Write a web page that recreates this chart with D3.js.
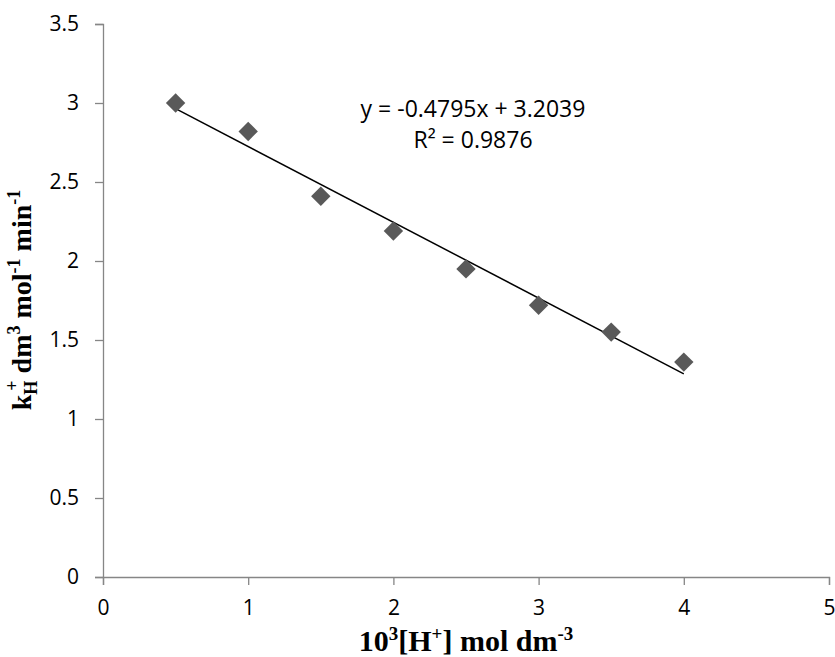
<!DOCTYPE html>
<html>
<head>
<meta charset="utf-8">
<script src="https://cdn.jsdelivr.net/npm/d3@7"></script>
<style>
  body { margin: 0; background: #fff; }
  .tick text { font-family: "Open Sans", "Liberation Sans", sans-serif; font-size: 21px; fill: #000; }
  .axis path, .axis line { stroke: #868686; stroke-width: 1.3; }
  .title { font-family: "Liberation Serif", "Times New Roman", serif; font-weight: bold; }
  .eq { font-family: "Open Sans", "Liberation Sans", sans-serif; font-size: 23px; }
</style>
</head>
<body>
<svg width="835" height="657"></svg>
<script>
// data
var hConc = [0.5, 1, 1.5, 2, 2.5, 3, 3.5, 4];
var kRate = [3.0, 2.82, 2.41, 2.19, 1.95, 1.72, 1.55, 1.36];
var xTicks = [0, 1, 2, 3, 4, 5];
var yTicks = [0, 0.5, 1, 1.5, 2, 2.5, 3, 3.5];
var slope = -0.4795, intercept = 3.2039, r2 = 0.9876;

var svg = d3.select("svg"),
    margin = {top: 24, right: 6, bottom: 80, left: 103},
    width = +svg.attr("width") - margin.left - margin.right,
    height = +svg.attr("height") - margin.top - margin.bottom,
    g = svg.append("g").attr("transform", "translate(" + margin.left + "," + margin.top + ")");

var x = d3.scaleLinear().domain([0, 5]).range([0, width]);
var y = d3.scaleLinear().domain([0, 3.5]).range([height, 0]);

g.append("g")
    .attr("class", "axis")
    .attr("transform", "translate(0," + height + ")")
    .call(d3.axisBottom(x).tickValues(xTicks).tickSize(8).tickSizeOuter(8).tickPadding(15).tickFormat(d3.format("d")));

g.append("g")
    .attr("class", "axis")
    .call(d3.axisLeft(y).tickValues(yTicks).tickSize(8).tickSizeOuter(8).tickPadding(16).tickFormat(function(d) { return d; }));

// linear trendline over the data range
var fit = d3.extent(hConc).map(function(v) { return [v, slope * v + intercept]; });
g.append("path")
    .datum(fit)
    .attr("fill", "none")
    .attr("stroke", "#000")
    .attr("stroke-width", 1.5)
    .attr("d", d3.line().x(function(d) { return x(d[0]); }).y(function(d) { return y(d[1]); }));

g.selectAll(".pt")
    .data(hConc)
    .enter().append("path")
    .attr("class", "pt")
    .attr("d", d3.symbol().type(d3.symbolDiamond2).size(240))
    .attr("transform", function(d, i) { return "translate(" + x(d) + "," + y(kRate[i]) + ")"; })
    .attr("fill", "#595959");

// equation
var eq = svg.append("text").attr("class", "eq").attr("text-anchor", "middle");
eq.append("tspan").attr("x", 473).attr("y", 117).text("y = " + slope + "x + " + intercept);
eq.append("tspan").attr("x", 473).attr("y", 148).text("R² = " + r2);

// x title
var xt = svg.append("text").attr("class", "title").attr("font-size", 30).attr("text-anchor", "middle")
    .attr("x", 466).attr("y", 651);
xt.append("tspan").text("10");
xt.append("tspan").attr("font-size", 19).attr("dy", -11).text("3");
xt.append("tspan").attr("dy", 11).text("[H");
xt.append("tspan").attr("font-size", 19).attr("dy", -11).text("+");
xt.append("tspan").attr("dy", 11).text("] mol dm");
xt.append("tspan").attr("font-size", 19).attr("dy", -11).text("-3");

// y title
var yt = svg.append("text").attr("class", "title").attr("font-size", 28).attr("text-anchor", "middle")
    .attr("transform", "translate(31,300) rotate(-90)");
yt.append("tspan").text("k");
yt.append("tspan").attr("font-size", 18).attr("dy", 6).text("H");
yt.append("tspan").attr("font-size", 18).attr("dx", -10).attr("dy", -19).text("+");
yt.append("tspan").attr("dy", 13).text(" dm");
yt.append("tspan").attr("font-size", 18).attr("dy", -11).text("3");
yt.append("tspan").attr("dy", 11).text(" mol");
yt.append("tspan").attr("font-size", 18).attr("dy", -11).text("-1");
yt.append("tspan").attr("dy", 11).text(" min");
yt.append("tspan").attr("font-size", 18).attr("dy", -11).text("-1");
</script>
</body>
</html>
